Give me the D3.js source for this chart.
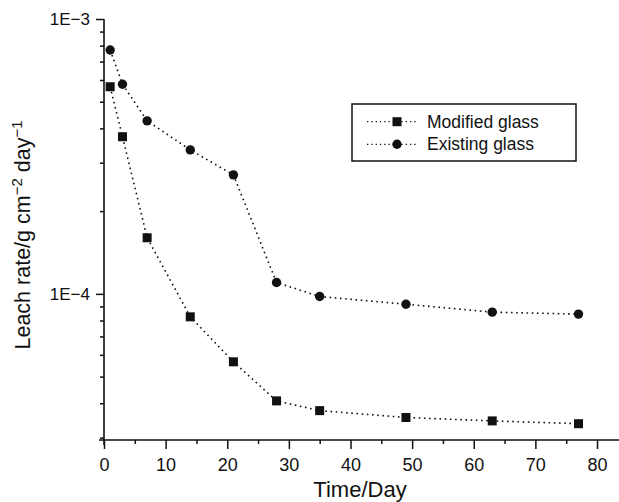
<!DOCTYPE html>
<html>
<head>
<meta charset="utf-8">
<script src="https://cdn.jsdelivr.net/npm/d3@7/dist/d3.min.js"></script>
<style>
  html, body { margin: 0; padding: 0; background: #fff; }
  svg { display: block; }
  text { font-family: "Liberation Sans", Arial, Helvetica, sans-serif; fill: #111; }
</style>
</head>
<body>
<svg id="chart" width="619" height="502"></svg>
<script>
// ---- data ----
const days = [1, 3, 7, 14, 21, 28, 35, 49, 63, 77];
const modifiedGlass = [5.67e-4, 3.73e-4, 1.60e-4, 8.25e-5, 5.66e-5, 4.08e-5, 3.76e-5, 3.55e-5, 3.45e-5, 3.37e-5];
const existingGlass = [7.71e-4, 5.79e-4, 4.26e-4, 3.34e-4, 2.71e-4, 1.10e-4, 9.78e-5, 9.17e-5, 8.58e-5, 8.44e-5];
const seriesNames = ["Modified glass", "Existing glass"];
const xMajorTicks = [0, 10, 20, 30, 40, 50, 60, 70, 80];
const xMinorTicks = [5, 15, 25, 35, 45, 55, 65, 75, 85];
const yMajorTicks = [1e-3, 1e-4];
const yMajorLabels = ["1E\u22123", "1E\u22124"];
const yMinorTicks = [3e-5, 4e-5, 5e-5, 6e-5, 7e-5, 8e-5, 9e-5, 2e-4, 3e-4, 4e-4, 5e-4, 6e-4, 7e-4, 8e-4, 9e-4];

const svg = d3.select("#chart");
const x = d3.scaleLinear().domain([0, 80]).range([104, 597]);
const y = d3.scaleLog().domain([2.94e-5, 1e-3]).range([440, 19]);
const axisColor = "#111";

// x axis
const gx = svg.append("g").attr("transform", `translate(0,${y.range()[0]})`);
gx.call(d3.axisBottom(x).tickValues(xMajorTicks).tickSize(9).tickPadding(9).tickSizeOuter(0));
gx.select(".domain").remove();
gx.selectAll("text").attr("font-size", 18).attr("font-family", "Liberation Sans, Arial, sans-serif").attr("fill", "#111");
gx.selectAll("line").attr("stroke", axisColor).attr("stroke-width", 1.5);
const gxm = svg.append("g").attr("transform", `translate(0,${y.range()[0]})`);
gxm.call(d3.axisBottom(x).tickValues(xMinorTicks).tickSize(4).tickFormat("").tickSizeOuter(0));
gxm.select(".domain").remove();
gxm.selectAll("line").attr("stroke", axisColor).attr("stroke-width", 1.5);
svg.append("line").attr("x1", x(0) - 5).attr("x2", 619).attr("y1", y.range()[0]).attr("y2", y.range()[0])
  .attr("stroke", axisColor).attr("stroke-width", 1.6);

// y axis
const gy = svg.append("g").attr("transform", `translate(${x(0)},0)`);
gy.call(d3.axisLeft(y).tickValues(yMajorTicks).tickFormat((d, i) => yMajorLabels[i]).tickSize(8).tickPadding(6).tickSizeOuter(0));
gy.select(".domain").remove();
gy.selectAll("text").attr("font-size", 17).attr("font-family", "Liberation Sans, Arial, sans-serif").attr("fill", "#111");
gy.selectAll("line").attr("stroke", axisColor).attr("stroke-width", 1.5);
const gym = svg.append("g").attr("transform", `translate(${x(0)},0)`);
gym.call(d3.axisLeft(y).tickValues(yMinorTicks).tickFormat("").tickSize(4).tickSizeOuter(0));
gym.select(".domain").remove();
gym.selectAll("line").attr("stroke", axisColor).attr("stroke-width", 1.5);
svg.append("line").attr("x1", x(0)).attr("x2", x(0)).attr("y1", y.range()[1]).attr("y2", y.range()[0] + 5)
  .attr("stroke", axisColor).attr("stroke-width", 1.6);

// axis titles
svg.append("text").attr("x", 360).attr("y", 497).attr("text-anchor", "middle")
  .attr("font-size", 22).text("Time/Day");
const yl = svg.append("text").attr("transform", "translate(30,235) rotate(-90)")
  .attr("text-anchor", "middle").attr("font-size", 21.5);
yl.append("tspan").text("Leach rate/g cm");
yl.append("tspan").attr("font-size", 15).attr("dy", -8).text("\u22122");
yl.append("tspan").attr("dy", 8).text(" day");
yl.append("tspan").attr("font-size", 15).attr("dy", -8).text("\u22121");

// series
const series = [
  { name: seriesNames[0], values: modifiedGlass, shape: "square" },
  { name: seriesNames[1], values: existingGlass, shape: "circle" }
];
const line = d3.line().x(d => x(d[0])).y(d => y(d[1])).curve(d3.curveLinear);
function drawMarker(g, shape, cx, cy) {
  if (shape === "square") {
    g.append("rect").attr("x", cx - 4.5).attr("y", cy - 4.5).attr("width", 9).attr("height", 9).attr("fill", "#111");
  } else {
    g.append("circle").attr("cx", cx).attr("cy", cy).attr("r", 4.7).attr("fill", "#111");
  }
}
series.forEach(s => {
  const pts = days.map((d, i) => [d, s.values[i]]);
  svg.append("path").attr("d", line(pts)).attr("fill", "none").attr("stroke", "#111")
    .attr("stroke-width", 1.6).attr("stroke-dasharray", "1.6,3.6");
  const g = svg.append("g");
  pts.forEach(p => drawMarker(g, s.shape, x(p[0]), y(p[1])));
});

// legend
const lg = svg.append("g");
lg.append("rect").attr("x", 352).attr("y", 104).attr("width", 224).attr("height", 57)
  .attr("fill", "#fff").attr("stroke", "#111").attr("stroke-width", 1.5);
series.forEach((s, i) => {
  const cy = 121.7 + i * 22.6;
  lg.append("line").attr("x1", 367).attr("x2", 418).attr("y1", cy).attr("y2", cy)
    .attr("stroke", "#111").attr("stroke-width", 1.3).attr("stroke-dasharray", "1.3,3");
  drawMarker(lg, s.shape, 397, cy);
  lg.append("text").attr("x", 427).attr("y", cy).attr("dy", "0.35em").attr("font-size", 17.5).text(s.name);
});
</script>
</body>
</html>
